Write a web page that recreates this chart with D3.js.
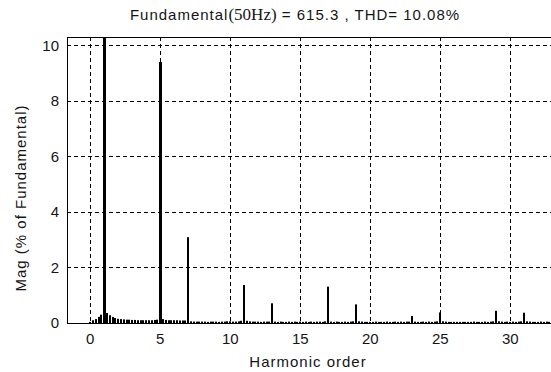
<!DOCTYPE html>
<meta charset="utf-8">
<style>
body { margin: 0; background: #fff; }
text { font-family: "Liberation Sans", Arial, sans-serif; fill: #151515; }
.grid line { stroke: #000; stroke-width: 1px; stroke-dasharray: 4,3; shape-rendering: crispEdges; }
.bar { fill: #000; }
</style>
<svg width="551" height="372"></svg>
<script src="https://cdn.jsdelivr.net/npm/d3@7"></script>
<script>
// spectrum in steps of 0.2 harmonic order, one row per harmonic (h, h+.2, h+.4, h+.6, h+.8)
var mags = [
  0.04, 0.10, 0.14, 0.22, 0.30,   // 0
  100,  0.36, 0.28, 0.22, 0.18,   // 1 (fundamental)
  0.15, 0.14, 0.13, 0.12, 0.12,   // 2
  0.11, 0.11, 0.10, 0.10, 0.10,   // 3
  0.10, 0.10, 0.10, 0.11, 0.12,   // 4
  9.40, 0.14, 0.11, 0.10, 0.10,   // 5
  0.10, 0.10, 0.09, 0.09, 0.09,   // 6
  3.09, 0.06, 0.05, 0.05, 0.05,   // 7
  0.05, 0.05, 0.04, 0.05, 0.05,   // 8
  0.05, 0.04, 0.05, 0.05, 0.06,   // 9
  0.06, 0.05, 0.05, 0.06, 0.08,   // 10
  1.37, 0.08, 0.06, 0.05, 0.05,   // 11
  0.05, 0.04, 0.05, 0.05, 0.05,   // 12
  0.71, 0.05, 0.04, 0.05, 0.04,   // 13
  0.04, 0.05, 0.04, 0.05, 0.04,   // 14
  0.05, 0.04, 0.05, 0.04, 0.05,   // 15
  0.04, 0.05, 0.05, 0.04, 0.06,   // 16
  1.31, 0.05, 0.04, 0.05, 0.04,   // 17
  0.04, 0.05, 0.04, 0.05, 0.06,   // 18
  0.67, 0.06, 0.05, 0.04, 0.04,   // 19
  0.04, 0.04, 0.05, 0.04, 0.04,   // 20
  0.04, 0.05, 0.04, 0.04, 0.05,   // 21
  0.04, 0.05, 0.04, 0.05, 0.05,   // 22
  0.25, 0.05, 0.04, 0.04, 0.05,   // 23
  0.04, 0.05, 0.04, 0.05, 0.06,   // 24
  0.38, 0.06, 0.05, 0.04, 0.04,   // 25
  0.04, 0.04, 0.04, 0.04, 0.04,   // 26
  0.04, 0.04, 0.05, 0.04, 0.04,   // 27
  0.04, 0.05, 0.04, 0.05, 0.06,   // 28
  0.44, 0.06, 0.05, 0.04, 0.05,   // 29
  0.04, 0.05, 0.04, 0.05, 0.06,   // 30
  0.37, 0.06, 0.05, 0.04, 0.04,   // 31
  0.04, 0.05, 0.04, 0.05, 0.04,   // 32
  0.04                             // 33
];
var step = 0.2;
var xTicks = [0, 5, 10, 15, 20, 25, 30];
var yTicks = [0, 2, 4, 6, 8, 10];

var data = mags.map(function(m, i) { return {order: Math.round(i * step * 10) / 10, mag: m}; });

var svg = d3.select("svg"),
    pLeft = 67, pTop = 37, pRight = 560, pBottom = 323;

var x = d3.scaleLinear().domain([-1.66, 33.5]).range([pLeft, pLeft + 35.16 * 14]),
    y = d3.scaleLinear().domain([0, 10.3]).range([pBottom, pTop]);

svg.append("defs").append("clipPath").attr("id", "clip")
  .append("rect").attr("x", pLeft).attr("y", pTop).attr("width", pRight - pLeft).attr("height", pBottom - pTop);

// grid
var grid = svg.append("g").attr("class", "grid");
grid.selectAll(".gx").data(xTicks).enter().append("line")
    .attr("x1", function(d) { return Math.round(x(d)) + 0.5; })
    .attr("x2", function(d) { return Math.round(x(d)) + 0.5; })
    .attr("y1", pTop).attr("y2", pBottom);
grid.selectAll(".gy").data(yTicks.slice(1)).enter().append("line")
    .attr("y1", function(d) { return Math.round(y(d)) + 0.5; })
    .attr("y2", function(d) { return Math.round(y(d)) + 0.5; })
    .attr("x1", pLeft).attr("x2", pRight);

// bars
svg.append("g").attr("clip-path", "url(#clip)")
  .selectAll("rect").data(data).enter().append("rect")
    .attr("class", "bar")
    .attr("x", function(d) { var w = d.mag > 5 ? 3 : 2; return Math.round(x(d.order) - w / 2); })
    .attr("width", function(d) { return d.mag > 5 ? 3 : 2; })
    .attr("y", function(d) { return y(d.mag); })
    .attr("height", function(d) { return y(0) - y(d.mag); });

// frame
svg.append("rect")
    .attr("x", pLeft + 0.5).attr("y", pTop + 0.5)
    .attr("width", pRight - pLeft).attr("height", pBottom - pTop)
    .attr("fill", "none").attr("stroke", "#000").attr("stroke-width", 1);

// tick labels
svg.append("g").selectAll("text").data(xTicks).enter().append("text")
    .attr("x", function(d) { return x(d); })
    .attr("y", 344)
    .attr("text-anchor", "middle")
    .style("font-size", "15px")
    .text(function(d) { return d; });
svg.append("g").selectAll("text").data(yTicks).enter().append("text")
    .attr("x", 59)
    .attr("y", function(d) { return y(d); })
    .attr("dy", "0.36em")
    .attr("text-anchor", "end")
    .style("font-size", "15px")
    .text(function(d) { return d; });

// labels
svg.append("text")
    .attr("x", 308).attr("y", 367)
    .attr("text-anchor", "middle")
    .style("font-size", "15px").style("letter-spacing", "1px")
    .text("Harmonic order");
svg.append("text")
    .attr("transform", "translate(26,198) rotate(-90)")
    .attr("text-anchor", "middle")
    .style("font-size", "15px").style("letter-spacing", "1px")
    .text("Mag (% of Fundamental)");

var title = svg.append("text")
    .attr("x", 295).attr("y", 20)
    .attr("text-anchor", "middle")
    .style("font-size", "15px").style("letter-spacing", "1px");
title.append("tspan").text("Fundamental");
title.append("tspan").style("font-family", "'Liberation Serif', 'Times New Roman', serif").style("font-size", "17px").style("letter-spacing", "0").text("(50Hz)");
title.append("tspan").text(" = 615.3 , THD= 10.08%");
</script>
